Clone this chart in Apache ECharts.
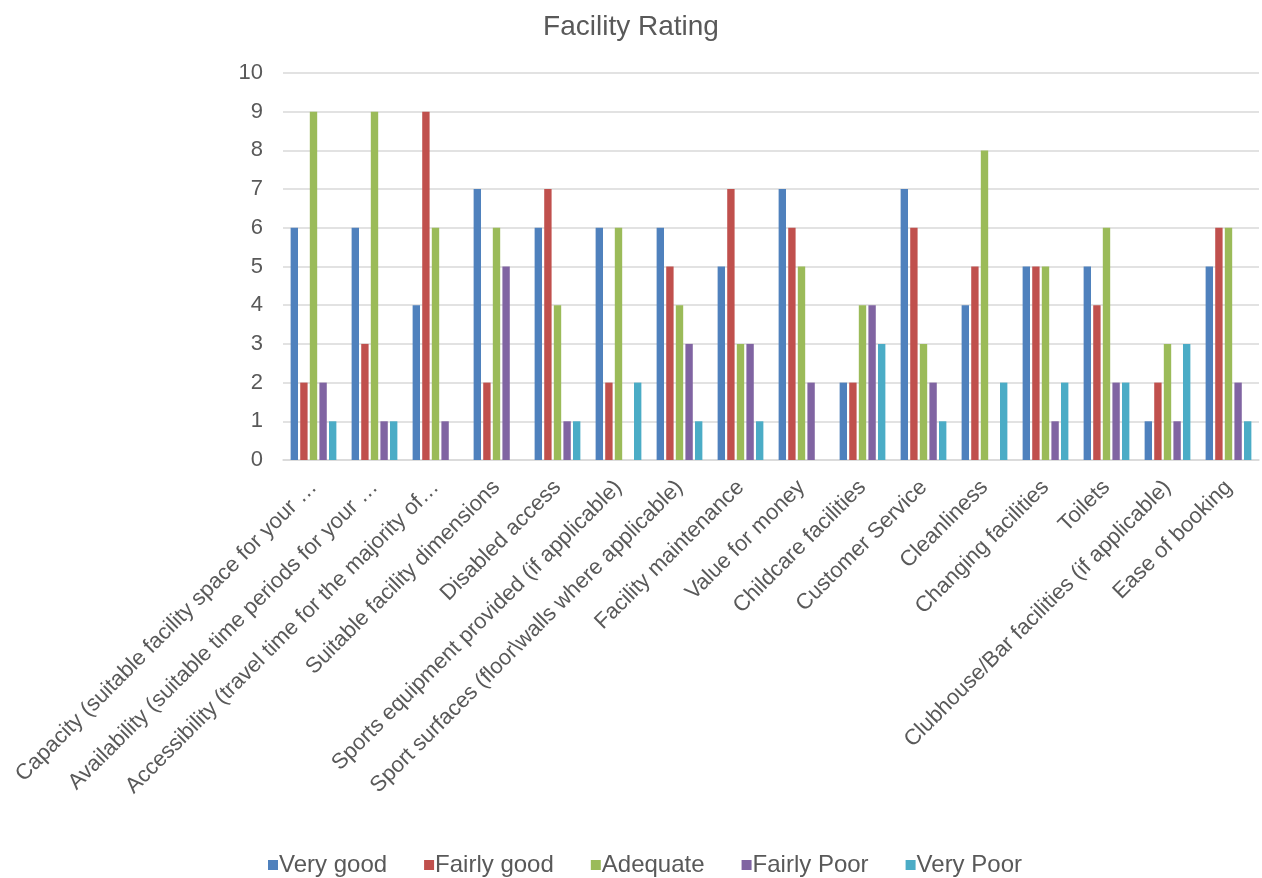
<!DOCTYPE html>
<html>
<head>
<meta charset="utf-8">
<script src="https://cdn.jsdelivr.net/npm/echarts@6/dist/echarts.min.js"></script>
<style>
  html, body { margin: 0; padding: 0; background: #fff; }
  #chart { width: 1262px; height: 878px; }
</style>
</head>
<body>
<div id="chart"></div>
<script>
// category labels as shown (long ones are cut off in the original)
var categories = [
  'Capacity (suitable facility space for your …',
  'Availability (suitable time periods for your …',
  'Accessibility (travel time for the majority of…',
  'Suitable facility dimensions',
  'Disabled access',
  'Sports equipment provided (if applicable)',
  'Sport surfaces (floor\\walls where applicable)',
  'Facility maintenance',
  'Value for money',
  'Childcare facilities',
  'Customer Service',
  'Cleanliness',
  'Changing facilities',
  'Toilets',
  'Clubhouse/Bar facilities (if applicable)',
  'Ease of booking'
]

var veryGood   = [6, 6, 4, 7, 6, 6, 6, 5, 7, 2, 7, 4, 5, 5, 1, 5]
var fairlyGood = [2, 3, 9, 2, 7, 2, 5, 7, 6, 2, 6, 5, 5, 4, 2, 6]
var adequate   = [9, 9, 6, 6, 4, 6, 4, 3, 5, 4, 3, 8, 5, 6, 3, 6]
var fairlyPoor = [2, 1, 1, 5, 1, 0, 3, 3, 2, 4, 2, 0, 1, 2, 1, 2]
var veryPoor   = [1, 1, 0, 0, 1, 2, 1, 1, 0, 3, 1, 2, 2, 2, 3, 1]

var seriesNames = ['Very good', 'Fairly good', 'Adequate', 'Fairly Poor', 'Very Poor']
var colors = ['#4F81BD', '#C0504D', '#9BBB59', '#8064A2', '#4BACC6']

var textColor = '#595959'
var font = 'Liberation Sans, Arial, sans-serif'

var chart = echarts.init(document.getElementById('chart'))

var seriesData = [veryGood, fairlyGood, adequate, fairlyPoor, veryPoor]

chart.setOption({
  animation: false,
  color: colors,
  title: {
    text: 'Facility Rating',
    left: 'center',
    top: 8,
    textStyle: {
      color: textColor,
      fontSize: 28,
      fontWeight: 'normal',
      fontFamily: font
    }
  },
  legend: {
    data: seriesNames,
    bottom: -4,
    left: 263,
    icon: 'rect',
    itemWidth: 10,
    itemHeight: 10,
    itemGap: 37,
    textStyle: {
      color: textColor,
      fontSize: 24,
      fontFamily: font,
      padding: [0, 0, 0, -4]
    }
  },
  grid: {
    left: 283,
    right: 3,
    top: 73,
    bottom: 418,
    outerBoundsMode: 'none'
  },
  xAxis: {
    type: 'category',
    data: categories,
    axisTick: { show: false },
    axisLine: { lineStyle: { color: '#d9d9d9', width: 1.5 } },
    axisLabel: {
      rotate: 45,
      interval: 0,
      color: textColor,
      fontSize: 22,
      fontFamily: font,
      margin: 24
    }
  },
  yAxis: {
    type: 'value',
    min: 0,
    max: 10,
    interval: 1,
    axisLine: { show: false },
    axisTick: { show: false },
    splitLine: { lineStyle: { color: '#d9d9d9', width: 1.5 } },
    axisLabel: {
      color: textColor,
      fontSize: 22,
      fontFamily: font,
      margin: 20
    }
  },
  series: seriesNames.map(function (name, i) {
    return {
      name: name,
      type: 'bar',
      data: seriesData[i],
      barGap: '30%',
      barCategoryGap: '25%'
    }
  })
})
</script>
</body>
</html>
